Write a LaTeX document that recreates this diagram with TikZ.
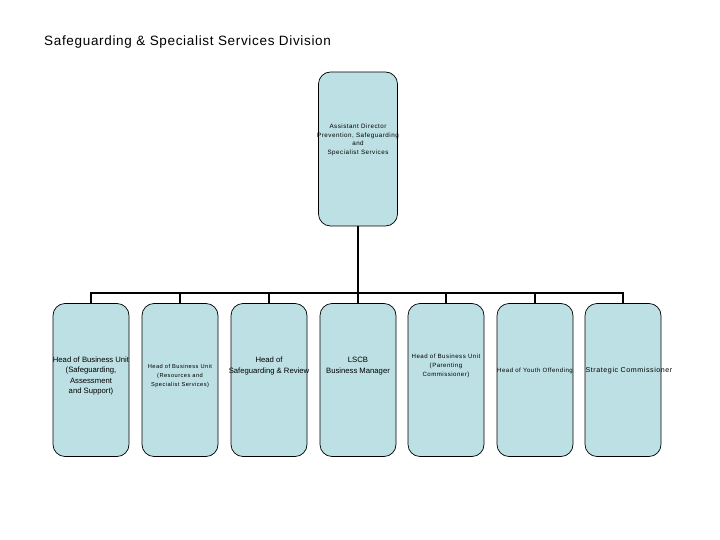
\documentclass[tikz,border=0pt]{standalone}
\usepackage{fontspec}
\setmainfont{Liberation Sans}
\newfontfamily\spacedfont[LetterSpace=8]{Liberation Sans}
\newfontfamily\titlefont[LetterSpace=5]{Liberation Sans}
\usetikzlibrary{positioning}
\definecolor{postfill}{HTML}{BDE0E4}

\begin{document}
\begin{tikzpicture}[
  x=1pt, y=-1pt,
  postbox/.style={
    draw=black,
    line width=0.7pt,
    fill=postfill,
    rectangle,
    rounded corners=12pt,
    minimum width=76pt,
    minimum height=153pt,
    inner sep=0pt
  },
  bigtext/.style={font=\fontsize{7.7}{10.3}\selectfont, align=center, inner sep=0pt},
  smalltext/.style={font=\spacedfont\fontsize{6.1}{8.7}\selectfont, align=center, inner sep=0pt},
  link/.style={line width=2.8pt}
]
  \useasboundingbox (0,0) rectangle (720,540);

  % --- Title ---
  \node[anchor=west, inner sep=0pt, font=\titlefont\fontsize{13.5}{16}\selectfont]
       (title) at (44,42) {Safeguarding \& Specialist Services Division};

  % --- Director at the top ---
  \node[postbox, minimum width=79pt, minimum height=154pt] (director) at (358,149) {};
  \node[smalltext, font=\spacedfont\fontsize{6.25}{8.7}\selectfont]
       (t0) at ([yshift=9pt]director.center)
       {Assistant Director\\Prevention, Safeguarding\\and\\Specialist Services};

  % --- Posts in one row ---
  \foreach \n/\x in {b1/91, b2/180, b3/269, b4/358, b5/446, b6/535, b7/623}
    \node[postbox] (\n) at (\x,380) {};

  \node[bigtext] (t1) at ([yshift=4pt]b1.center)
       {Head of Business Unit\\(Safeguarding,\\Assessment\\and Support)};
  \node[smalltext, font=\spacedfont\fontsize{5.7}{9}\selectfont] (t2) at ([yshift=4pt]b2.center)
       {Head of Business Unit\\(Resources and\\Specialist Services)};
  \node[bigtext] (t3) at ([yshift=14pt]b3.center) {Head of\\Safeguarding \& Review};
  \node[bigtext] (t4) at ([yshift=14pt]b4.center) {LSCB\\Business Manager};
  \node[smalltext] (t5) at ([yshift=14pt]b5.center)
       {Head of Business Unit\\(Parenting\\Commissioner)};
  \node[smalltext] (t6) at ([yshift=9pt]b6.center) {Head of Youth Offending};
  \node[smalltext, font=\spacedfont\fontsize{7.1}{8.7}\selectfont]
       (t7) at ([xshift=6pt, yshift=9pt]b7.center) {Strategic Commissioner};

  % --- Connectors ---
  \coordinate (bar) at (358,293);
  \draw[link] (director.south) -- (bar);
  \draw[link] (b1.north) |- (bar) -| (b7.north);
  \foreach \n in {b2, b3, b4, b5, b6}
    \draw[link] (\n.north |- bar) -- (\n.north);

\end{tikzpicture}
\end{document}
